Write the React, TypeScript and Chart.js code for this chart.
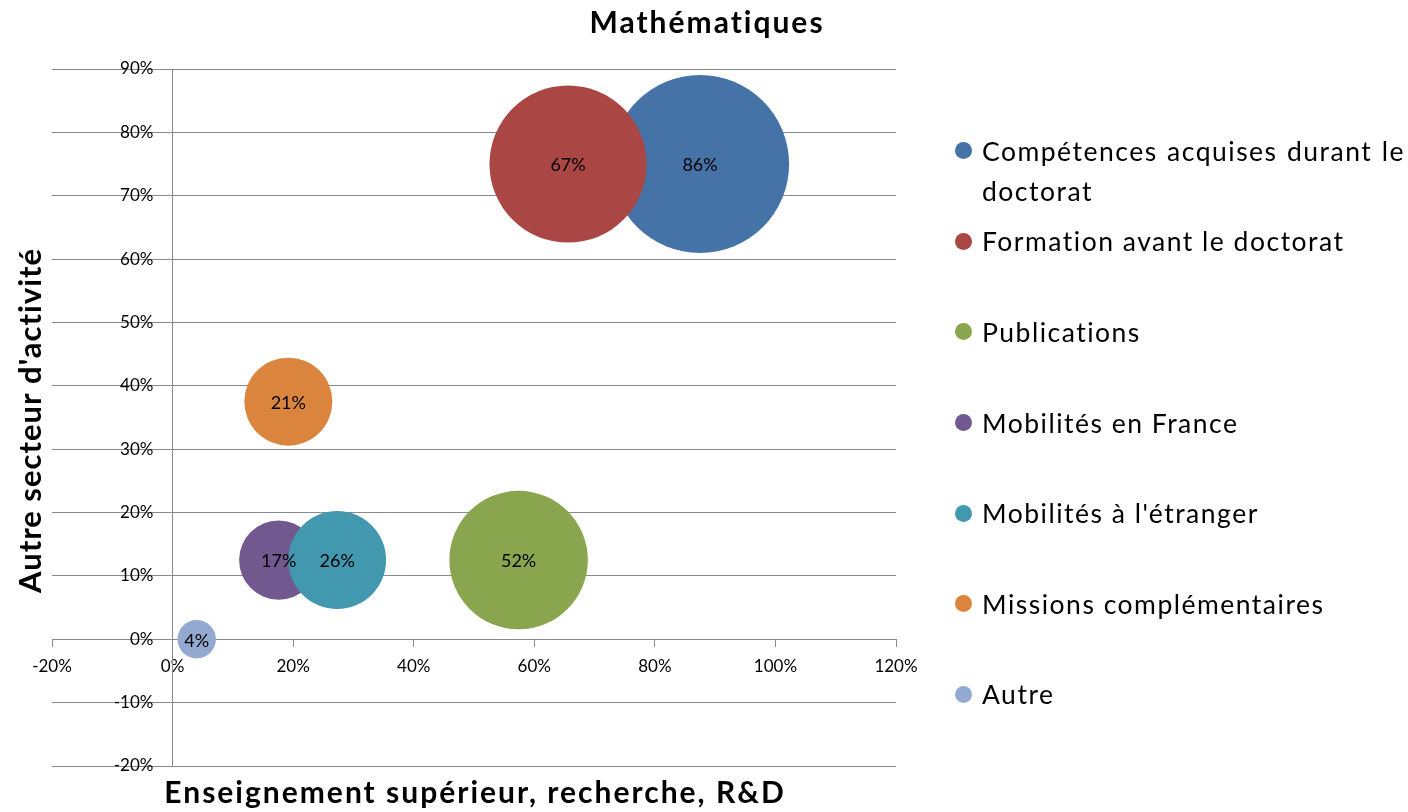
import React, { useEffect, useRef } from 'react';
import { Chart, registerables } from 'chart.js';

Chart.register(...registerables);

// ---------- data ----------
const chartTitle = 'Mathématiques';
const xAxisTitle = 'Enseignement supérieur, recherche, R&D';
const yAxisTitle = "Autre secteur d'activité";

const seriesNames = [
  'Compétences acquises durant le doctorat',
  'Formation avant le doctorat',
  'Publications',
  'Mobilités en France',
  "Mobilités à l'étranger",
  'Missions complémentaires',
  'Autre',
];
// x: Enseignement supérieur, recherche, R&D (%)
const xValues = [87.5, 65.6, 57.4, 17.6, 27.3, 19.2, 4.0];
// y: Autre secteur d'activité (%)
const yValues = [75, 75, 12.5, 12.5, 12.5, 37.5, 0];
// bubble size (%)
const sizeValues = [86, 67, 52, 17, 26, 21, 4];
const seriesColors = ['#4572A7', '#AA4643', '#89A54E', '#71588F', '#4198AF', '#DB843D', '#93A9CF'];

const xMin = -20;
const xMax = 120;
const xStep = 20;
const yMin = -20;
const yMax = 90;
const yStep = 10;

// ---------- style ----------
const W = 1408;
const H = 812;
const GRID = '#8a8a8a';
const FONT = 'Lato, "Open Sans", sans-serif';
const BUBBLE_SCALE = 9.6; // px of radius per sqrt(size)
const LEGEND_TOP = 150.7;
const LEGEND_STEP = 90.6;

const textPlugin = {
  id: 'chartTexts',
  afterDatasetsDraw(chart: any) {
    const ctx = chart.ctx as CanvasRenderingContext2D;
    ctx.save();
    ctx.fillStyle = '#000';
    ctx.font = `18px ${FONT}`;
    ctx.textAlign = 'center';
    ctx.textBaseline = 'middle';
    chart.data.datasets.forEach((ds: any, di: number) => {
      const meta = chart.getDatasetMeta(di);
      meta.data.forEach((el: any, j: number) => {
        const label = `${ds.sizes[j]}%`;
        ctx.fillText(label, el.x, el.y + 1.5);
      });
    });
    ctx.restore();
  },
  afterDraw(chart: any) {
    const ctx = chart.ctx as CanvasRenderingContext2D;
    const ca = chart.chartArea;
    ctx.save();
    ctx.fillStyle = '#000';
    ctx.textAlign = 'center';
    ctx.textBaseline = 'alphabetic';
    (ctx as any).letterSpacing = '2px';
    ctx.font = `bold 30px ${FONT}`;
    ctx.fillText(chartTitle, chart.width / 2 + 3, ca.top - 36.3);
    ctx.fillText(xAxisTitle, (ca.left + ca.right) / 2 + 1, ca.bottom + 36.7);
    ctx.translate(ca.left - 11, (ca.top + ca.bottom) / 2 + 3);
    ctx.rotate(-Math.PI / 2);
    (ctx as any).letterSpacing = '1px';
    ctx.font = `bold 31px ${FONT}`;
    ctx.fillText(yAxisTitle, 0, 0);
    ctx.restore();
  },
};

function BubbleChart() {
  const ref = useRef<HTMLCanvasElement | null>(null);

  useEffect(() => {
    if (!ref.current) return;
    const chart = new Chart(ref.current, {
      type: 'bubble',
      data: {
        datasets: seriesNames.map((name, i) => ({
          label: name,
          data: [{ x: xValues[i], y: yValues[i], r: BUBBLE_SCALE * Math.sqrt(sizeValues[i]) }],
          sizes: [sizeValues[i]],
          backgroundColor: seriesColors[i],
          borderWidth: 0,
          hoverBorderWidth: 0,
          hoverRadius: 0,
          order: seriesNames.length - i,
        })) as any,
      },
      options: {
        animation: false,
        responsive: false,
        devicePixelRatio: 1,
        events: [],
        layout: { autoPadding: false, padding: { left: 52, right: W - 896, top: 69, bottom: H - 766 } },
        plugins: {
          legend: { display: false },
          title: { display: false },
          tooltip: { enabled: false },
        },
        scales: {
          x: {
            type: 'linear',
            position: { y: 0 } as any,
            min: xMin,
            max: xMax,
            ticks: {
              stepSize: xStep,
              autoSkip: false,
              maxRotation: 0,
              padding: 10,
              color: '#000',
              font: { family: FONT, size: 17 },
              callback: (v: any) => `${v}%`,
            },
            grid: { drawOnChartArea: false, drawTicks: true, tickLength: 7, color: GRID, lineWidth: 1 },
            border: { display: true, color: GRID, width: 1 },
          },
          y: {
            type: 'linear',
            position: { x: 0 } as any,
            min: yMin,
            max: yMax,
            ticks: {
              stepSize: yStep,
              autoSkip: false,
              color: '#000',
              font: { family: FONT, size: 17 },
              callback: (v: any) => `${v}%\u2003\u2009\u2009\u2009`,
            },
            grid: { drawOnChartArea: true, drawTicks: true, tickLength: 7, color: GRID, lineWidth: 1 },
            border: { display: true, color: GRID, width: 1 },
          },
        },
      } as any,
      plugins: [textPlugin],
    });
    return () => chart.destroy();
  }, []);

  return <canvas ref={ref} width={W} height={H} style={{ position: 'absolute', left: 0, top: 0, width: W, height: H }} />;
}

function Legend() {
  return (
    <>
      {seriesNames.map((name, i) => {
        const cy = LEGEND_TOP + i * LEGEND_STEP;
        return (
          <React.Fragment key={name}>
            <div
              style={{
                position: 'absolute',
                left: 955,
                top: cy - 8.5,
                width: 17,
                height: 17,
                borderRadius: '50%',
                background: seriesColors[i],
              }}
            />
            <div
              style={{
                position: 'absolute',
                left: 982,
                top: cy - 20,
                width: 423,
                lineHeight: '40px',
                fontSize: 26.5,
                fontFamily: FONT,
                letterSpacing: '1.5px',
                color: '#000',
                textAlign: 'justify',
              }}
            >
              {name}
            </div>
          </React.Fragment>
        );
      })}
    </>
  );
}

export default function App() {
  return (
    <div style={{ position: 'fixed', left: 0, top: 0, width: W, height: H, background: '#fff', overflow: 'hidden' }}>
      <BubbleChart />
      <Legend />
    </div>
  );
}
